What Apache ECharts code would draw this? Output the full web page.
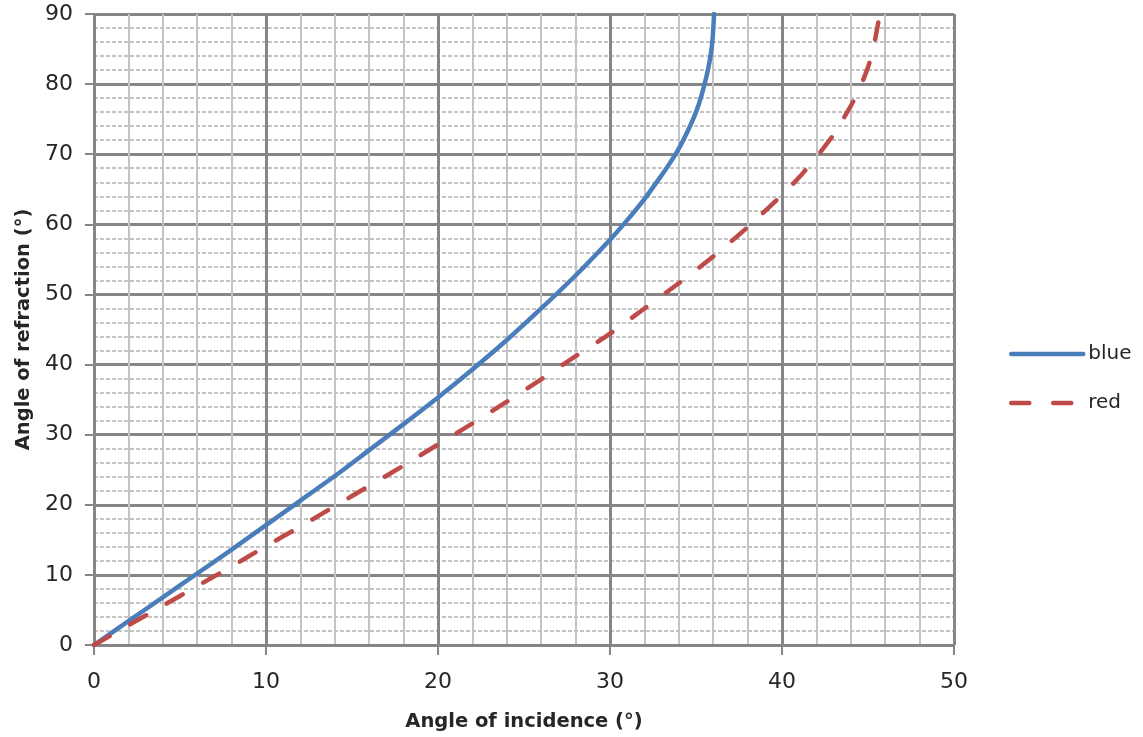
<!DOCTYPE html>
<html>
<head>
<meta charset="utf-8">
<script src="https://cdn.jsdelivr.net/npm/echarts@6/dist/echarts.min.js"></script>
<style>
html,body{margin:0;padding:0;background:#fff;}
#chart{width:1143px;height:737px;}
</style>
</head>
<body>
<div id="chart"></div>
<script>
// Angle of incidence (degrees) for blue light
const blueIncidence = [0, 2, 4, 6, 8, 10, 12, 14, 16, 18, 20, 22, 24, 26, 28, 30, 31, 32, 33, 33.5, 34, 34.5, 35, 35.3, 35.6, 35.8, 35.95, 36.05];
// Angle of refraction (degrees) for blue light
const blueRefraction = [0, 3.4, 6.8, 10.2, 13.6, 17.1, 20.6, 24.1, 27.8, 31.5, 35.3, 39.3, 43.5, 48.0, 52.7, 57.8, 60.6, 63.6, 67.0, 68.8, 70.8, 73.2, 76.0, 78.2, 81.0, 83.4, 86.0, 90];

// Angle of incidence / refraction (degrees) for red light
const redIncidence = [0, 2, 4, 6, 8, 10, 12, 14, 16, 18, 20, 22, 24, 26, 28, 30, 32, 34, 36, 38, 40, 41, 42, 43, 44, 44.5, 45, 45.3, 45.5, 45.6];
const redRefraction = [0, 2.8, 5.6, 8.4, 11.2, 14.1, 16.9, 19.8, 22.7, 25.6, 28.6, 31.6, 34.7, 37.9, 41.2, 44.4, 48.0, 51.6, 55.4, 59.6, 64.2, 66.7, 69.6, 72.8, 76.9, 79.3, 82.4, 85.0, 87.5, 88.8];

const xTicks = { min: 0, max: 50, step: 10 };
const yTicks = { min: 0, max: 90, step: 10 };

const pairs = (xs, ys) => xs.map((x, i) => [x, ys[i]]);

const font = 'DejaVu Sans, sans-serif';
const textColor = '#262626';
const majorColor = '#868686';
const minorColor = '#c4c4c4';

const chart = echarts.init(document.getElementById('chart'), null, { renderer: 'canvas' });
chart.setOption({
  animation: false,
  backgroundColor: '#ffffff',
  grid: { left: 94, right: 189, top: 14, bottom: 92, containLabel: false },
  xAxis: {
    type: 'value',
    min: xTicks.min, max: xTicks.max, interval: xTicks.step,
    name: 'Angle of incidence (°)',
    nameLocation: 'middle',
    nameGap: 67,
    nameTextStyle: { fontFamily: font, fontSize: 19.5, fontWeight: 'bold', color: textColor },
    axisLine: { show: true, lineStyle: { color: majorColor, width: 2 } },
    axisTick: { show: true, length: 10, lineStyle: { color: majorColor, width: 2 } },
    axisLabel: { fontFamily: font, fontSize: 22, color: textColor, margin: 26 },
    splitLine: { show: true, lineStyle: { color: majorColor, width: 3 } },
    minorTick: { show: false, splitNumber: 5 },
    minorSplitLine: { show: true, lineStyle: { color: minorColor, width: 2 } }
  },
  yAxis: {
    type: 'value',
    min: yTicks.min, max: yTicks.max, interval: yTicks.step,
    name: 'Angle of refraction (°)',
    nameLocation: 'middle',
    nameGap: 60,
    nameRotate: 90,
    nameTextStyle: { fontFamily: font, fontSize: 19.5, fontWeight: 'bold', color: textColor },
    axisLine: { show: true, lineStyle: { color: majorColor, width: 2 } },
    axisTick: { show: true, length: 9, lineStyle: { color: majorColor, width: 2 } },
    axisLabel: { fontFamily: font, fontSize: 22, color: textColor, margin: 21 },
    splitLine: { show: true, lineStyle: { color: majorColor, width: 3 } },
    minorTick: { show: false, splitNumber: 5 },
    minorSplitLine: { show: true, lineStyle: { color: minorColor, width: 2, type: [4, 2] } }
  },
  legend: {
    orient: 'vertical',
    left: 1004,
    top: 339,
    itemWidth: 72,
    itemHeight: 20,
    itemGap: 29,
    itemStyle: { opacity: 0 },
    lineStyle: { width: 4.5, cap: 'round' },
    textStyle: { fontFamily: font, fontSize: 20, lineHeight: 20, color: textColor },
    data: ['blue', 'red']
  },
  series: [
    {
      name: 'blue',
      type: 'line',
      data: pairs(blueIncidence, blueRefraction),
      smooth: 0.25,
      showSymbol: false,
      symbol: 'none',
      lineStyle: { color: '#4a7ebb', width: 4.5, cap: 'round' },
      itemStyle: { color: '#4a7ebb' }
    },
    {
      name: 'red',
      type: 'line',
      data: pairs(redIncidence, redRefraction),
      smooth: 0.25,
      showSymbol: false,
      symbol: 'none',
      lineStyle: { color: '#be4b48', width: 4.5, type: [18, 24], cap: 'round' },
      itemStyle: { color: '#be4b48' }
    }
  ]
});
</script>
</body>
</html>
